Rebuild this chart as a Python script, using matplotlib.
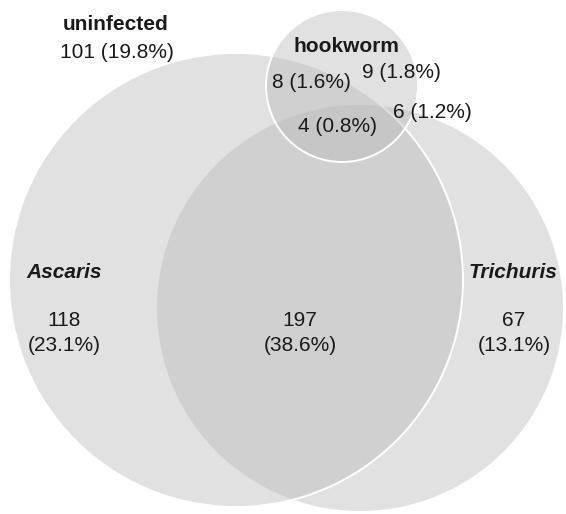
import matplotlib
matplotlib.use("Agg")
import matplotlib.pyplot as plt
from matplotlib.patches import Circle

plt.rcParams["font.family"] = ["Liberation Sans", "DejaVu Sans"]

# region counts (n = 510 children)
region_names = ["uninfected", "Ascaris only", "Ascaris+Trichuris", "Trichuris only",
                "Ascaris+hookworm", "hookworm only", "all three", "Trichuris+hookworm"]
region_counts = [101, 118, 197, 67, 8, 9, 4, 6]
set_labels = ["Ascaris", "Trichuris", "hookworm"]

total = sum(region_counts)
pct = [f"({c / total * 100:.1f}%)" for c in region_counts]

# layout in pixel coordinates (x, y, radius)
circles = {
    "Trichuris": (360, 308, 204),
    "Ascaris": (236, 280, 227),
    "hookworm": (342, 86, 76),
}

fig = plt.figure(figsize=(5.66, 5.14), dpi=100)
ax = fig.add_axes([0, 0, 1, 1])
ax.set_xlim(0, 566)
ax.set_ylim(514, 0)
ax.axis("off")

for name in ["Trichuris", "Ascaris", "hookworm"]:
    cx, cy, r = circles[name]
    ax.add_patch(Circle((cx, cy), r, facecolor=(0.73, 0.73, 0.73, 0.43),
                        edgecolor="white", linewidth=1.4))

fs = 15
tc = "#1a1a1a"

# set titles
ax.text(116, 25, "uninfected", ha="center", va="center", fontsize=fs, fontweight="bold", color=tc)
ax.text(64, 272, set_labels[0], ha="center", va="center", fontsize=fs, fontweight="bold",
        style="italic", color=tc)
ax.text(513, 272, set_labels[1], ha="center", va="center", fontsize=fs, fontweight="bold",
        style="italic", color=tc)
ax.text(346, 47, set_labels[2], ha="center", va="center", fontsize=fs, fontweight="bold", color=tc)

# region values
ax.text(117, 53, f"{region_counts[0]} {pct[0]}", ha="center", va="center", fontsize=fs, color=tc)
ax.text(64, 333, f"{region_counts[1]}\n{pct[1]}", ha="center", va="center", fontsize=fs,
        color=tc, linespacing=1.4)
ax.text(300, 333, f"{region_counts[2]}\n{pct[2]}", ha="center", va="center", fontsize=fs,
        color=tc, linespacing=1.4)
ax.text(514, 333, f"{region_counts[3]}\n{pct[3]}", ha="center", va="center", fontsize=fs,
        color=tc, linespacing=1.4)
ax.text(311, 83, f"{region_counts[4]} {pct[4]}", ha="center", va="center", fontsize=fs, color=tc)
ax.text(401, 73, f"{region_counts[5]} {pct[5]}", ha="center", va="center", fontsize=fs, color=tc)
ax.text(338, 127, f"{region_counts[6]} {pct[6]}", ha="center", va="center", fontsize=fs, color=tc)
ax.text(432, 112, f"{region_counts[7]} {pct[7]}", ha="center", va="center", fontsize=fs, color=tc)

fig.savefig("out.png", dpi=100)
